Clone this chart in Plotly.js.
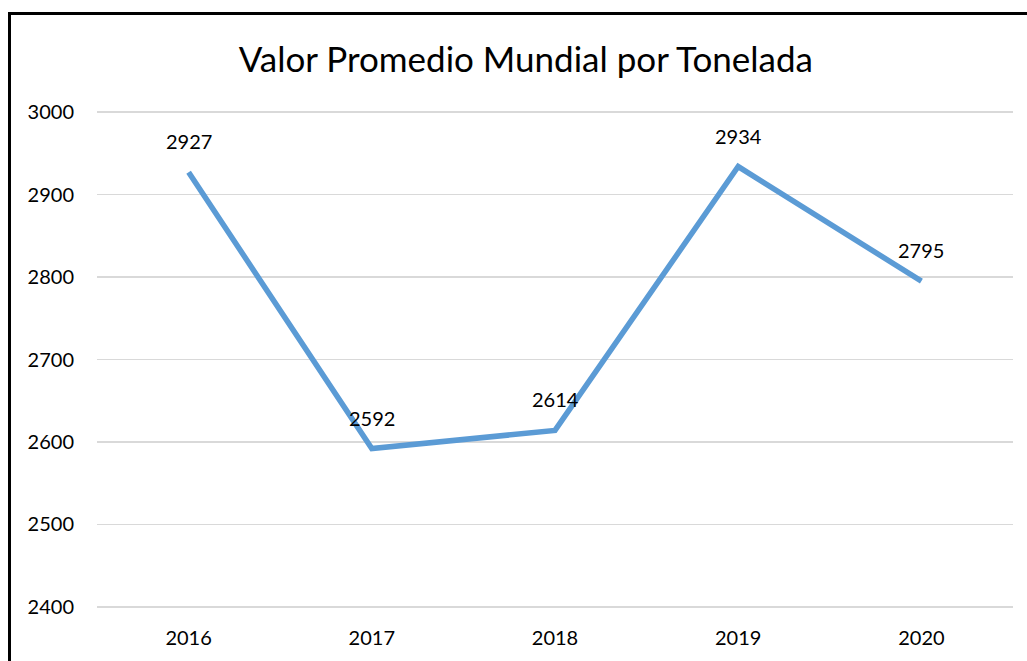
<!DOCTYPE html>
<html><head><meta charset="utf-8">
<script src="https://cdn.plot.ly/plotly-3.0.1.min.js"></script>
<style>
html,body{margin:0;padding:0;background:#fff;overflow:hidden;}
#chart{width:1027px;height:661px;}
#frame{position:absolute;left:8px;top:12px;width:1100px;height:700px;border:3px solid #000;pointer-events:none;}
</style></head>
<body>
<div id="chart"></div>
<div id="frame"></div>
<script>
const years = ['2016','2017','2018','2019','2020'];
const values = [2927, 2592, 2614, 2934, 2795];
const yTicks = [2400, 2500, 2600, 2700, 2800, 2900, 3000];
const chartTitle = 'Valor Promedio Mundial por Tonelada';

const font = 'Lato, "Open Sans", sans-serif';
const trace = {
  x: years, y: values, type: 'scatter', mode: 'lines',
  line: {color: '#5B9BD5', width: 5.5},
  cliponaxis: false, hoverinfo: 'skip'
};
const annotations = years.map((yr, i) => ({
  x: i, y: values[i], xref: 'x', yref: 'y', text: String(values[i]),
  showarrow: false, yshift: 31, xanchor: 'center', yanchor: 'middle',
  font: {family: font, size: 20, color: '#000'}
}));
const layout = {
  width: 1027, height: 661,
  margin: {l: 97, r: 14, t: 108, b: 50},
  paper_bgcolor: '#fff', plot_bgcolor: '#fff',
  showlegend: false,
  annotations: annotations,
  title: {text: chartTitle, font: {family: font, size: 35, color: '#000'}, x: 0.512, xanchor: 'center', y: 0.909, yanchor: 'middle'},
  xaxis: {type: 'category', range: [-0.5, 4.5], showgrid: false, zeroline: false, showline: false, ticks: '',
          ticklabelstandoff: 13, tickfont: {family: font, size: 20, color: '#000'}},
  yaxis: {range: [2395, 3005], tickvals: yTicks, ticktext: yTicks.map(String), showgrid: true, gridcolor: '#d9d9d9', gridwidth: 1.5,
          zeroline: false, showline: false, ticks: '', ticklabelstandoff: 22, tickfont: {family: font, size: 20, color: '#000'}}
};
Plotly.newPlot('chart', [trace], layout, {displayModeBar: false, staticPlot: true});
</script>
</body></html>
